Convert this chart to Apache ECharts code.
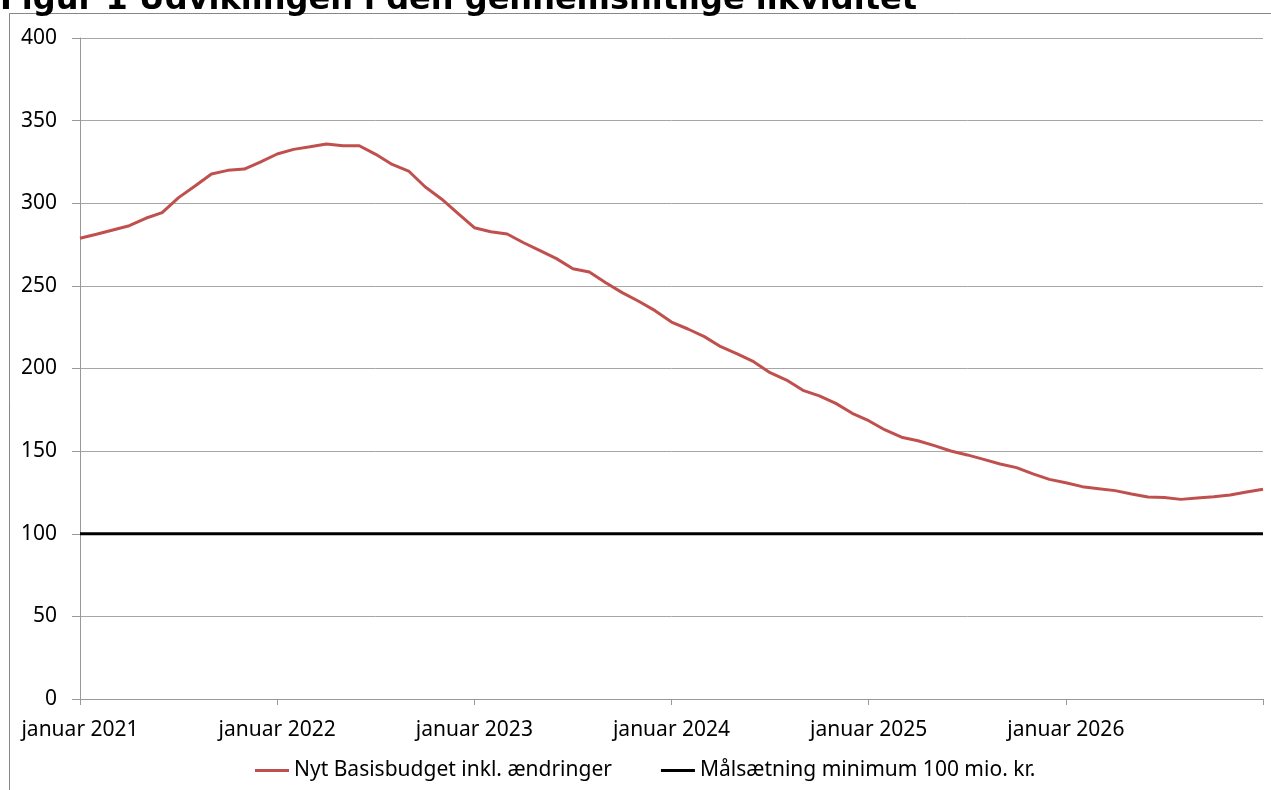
<!DOCTYPE html>
<html>
<head>
<meta charset="utf-8">
<script src="https://cdn.jsdelivr.net/npm/echarts@6/dist/echarts.min.js"></script>
<style>
  html, body { margin: 0; padding: 0; background: #fff; }
  #chart { width: 1271px; height: 790px; }
</style>
</head>
<body>
<div id="chart"></div>
<script>
const years = [2021, 2022, 2023, 2024, 2025, 2026];
const lastLabel = "januar 2027";
const months = ["januar", "februar", "marts", "april", "maj", "juni", "juli", "august", "september", "oktober", "november", "december"];

// gennemsnitlig likviditet, mio. kr. (en værdi pr. måned, jan 2021 - jan 2027)
const basisbudget = [
  278.8, 281.2, 283.8, 286.4, 290.9, 294.3, 303.4, 310.4, 317.7, 319.9, 320.7, 325.0,
  329.8, 332.6, 334.2, 335.9, 334.8, 334.8, 329.6, 323.5, 319.5, 310.0, 302.6, 293.9,
  285.2, 282.8, 281.4, 276.1, 271.3, 266.5, 260.4, 258.4, 251.9, 245.9, 240.7, 235.0,
  228.1, 223.9, 219.3, 213.2, 208.8, 204.1, 197.5, 193.0, 186.8, 183.4, 178.9, 172.9,
  168.4, 162.8, 158.4, 156.3, 153.3, 150.1, 147.7, 145.0, 142.2, 140.0, 136.2, 132.9,
  130.9, 128.5, 127.3, 126.1, 124.1, 122.2, 122.0, 120.8, 121.6, 122.4, 123.4, 125.3,
  126.9
];
const maalsaetning = 100;
const yTicks = [0, 50, 100, 150, 200, 250, 300, 350, 400];

const categories = [];
years.forEach((y) => months.forEach((m) => categories.push(`${m} ${y}`)));
categories.push(lastLabel);

const font = "Noto Sans";
const chart = echarts.init(document.getElementById("chart"));

chart.setOption({
  animation: false,
  backgroundColor: "#ffffff",
  title: {
    text: "Figur 1 Udviklingen i den gennemsnitlige likviditet",
    left: 0,
    top: -15,
    padding: 0,
    textStyle: { fontFamily: "DejaVu Sans", fontWeight: "bold", fontSize: 32, color: "#000" }
  },
  graphic: [
    { type: "line", silent: true, shape: { x1: 9.5, y1: 13.5, x2: 1271, y2: 13.5 }, style: { stroke: "#868686", lineWidth: 1 } },
    { type: "line", silent: true, shape: { x1: 9.5, y1: 13.5, x2: 9.5, y2: 790 }, style: { stroke: "#868686", lineWidth: 1 } }
  ],
  grid: { left: 80, right: 8, top: 38, bottom: 91, containLabel: false },
  legend: {
    left: 255,
    top: 760,
    padding: 0,
    icon: "rect",
    itemWidth: 34,
    itemHeight: 3,
    itemGap: 49,
    itemTextGap: 2,
    textStyle: { fontFamily: font, fontSize: 21, color: "#000" },
    data: ["Nyt Basisbudget inkl. ændringer", "Målsætning minimum 100 mio. kr."]
  },
  xAxis: {
    type: "category",
    data: categories,
    boundaryGap: false,
    axisLine: { lineStyle: { color: "#989898", width: 1 } },
    axisTick: {
      length: 6,
      interval: (i) => i % 12 === 0,
      lineStyle: { color: "#989898" }
    },
    axisLabel: {
      interval: (i) => i % 12 === 0 && i < categories.length - 1,
      margin: 21,
      fontFamily: font,
      fontSize: 21,
      color: "#000"
    },
    splitLine: { show: false }
  },
  yAxis: {
    type: "value",
    min: yTicks[0],
    max: yTicks[yTicks.length - 1],
    interval: yTicks[1] - yTicks[0],
    axisLine: { show: true, lineStyle: { color: "#989898", width: 1 } },
    axisTick: { show: true, length: 8, lineStyle: { color: "#989898" } },
    axisLabel: { margin: 23, fontFamily: font, fontSize: 21, color: "#000" },
    splitLine: { lineStyle: { color: "#a6a6a6", width: 1 } }
  },
  series: [
    {
      name: "Nyt Basisbudget inkl. ændringer",
      type: "line",
      data: basisbudget,
      symbol: "none",
      lineStyle: { color: "#C0504D", width: 3 },
      itemStyle: { color: "#C0504D" },
      z: 3
    },
    {
      name: "Målsætning minimum 100 mio. kr.",
      type: "line",
      data: [[categories[0], maalsaetning], [categories[categories.length - 1], maalsaetning]],
      symbol: "none",
      lineStyle: { color: "#000000", width: 3 },
      itemStyle: { color: "#000000" },
      z: 2
    }
  ]
});
</script>
</body>
</html>
